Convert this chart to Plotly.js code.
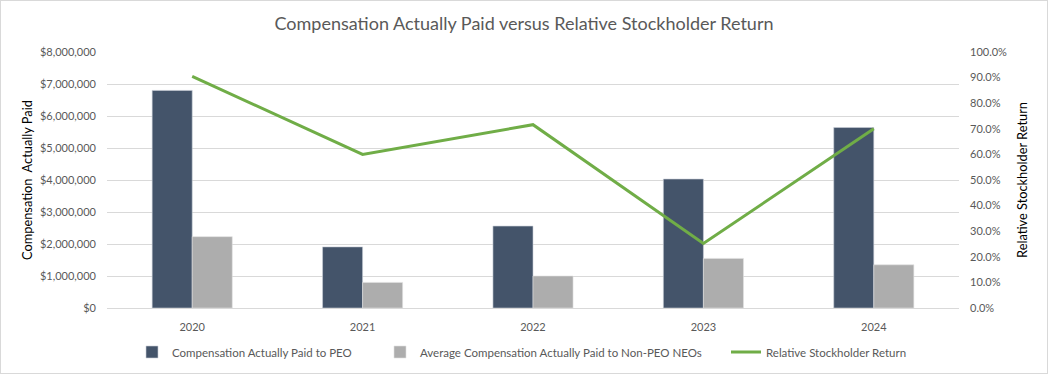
<!DOCTYPE html>
<html>
<head>
<meta charset="utf-8">
<script src="https://cdn.plot.ly/plotly-3.0.1.min.js"></script>
<style>
  html, body { margin: 0; padding: 0; background: #fff; }
  #chart { width: 1046px; height: 372px; border: 1px solid #D9D9D9; }
</style>
</head>
<body>
<div id="chart"></div>
<script>
const years = ["2020", "2021", "2022", "2023", "2024"];
const peoCAP = [6800000, 1910000, 2560000, 4030000, 5640000];
const neoCAP = [2230000, 800000, 1000000, 1550000, 1350000];
const relTSR = [0.905, 0.60, 0.716, 0.252, 0.70];

const FONT = "Lato, 'Open Sans', sans-serif";
const TXT = "#595959";

const traces = [
  {
    type: "bar", name: "Compensation Actually Paid to PEO",
    x: years, y: peoCAP, yaxis: "y",
    marker: { color: "#44546A", line: { color: "#C9CED6", width: 0.6 } },
    legend: "legend", hoverinfo: "skip"
  },
  {
    type: "bar", name: "Average Compensation Actually Paid to Non-PEO NEOs",
    x: years, y: neoCAP, yaxis: "y",
    marker: { color: "#ADADAD", line: { color: "#E0E0E0", width: 0.6 } },
    legend: "legend2", hoverinfo: "skip"
  },
  {
    type: "scatter", mode: "lines", name: "Relative Stockholder Return",
    x: years, y: relTSR, yaxis: "y2",
    line: { color: "#70AD47", width: 3 },
    legend: "legend3", hoverinfo: "skip"
  }
];

const legBase = {
  orientation: "h", xref: "container", yref: "container",
  yanchor: "middle", y: 1 - 351 / 372, xanchor: "left",
  font: { family: FONT, size: 11.5, color: TXT }, bgcolor: "rgba(0,0,0,0)"
};

const layout = {
  width: 1046, height: 372,
  margin: { l: 106, r: 88, t: 51, b: 65, autoexpand: false },
  paper_bgcolor: "#fff", plot_bgcolor: "#fff",
  font: { family: FONT, color: TXT, size: 11 },
  title: {
    text: "Compensation Actually Paid versus Relative Stockholder Return",
    font: { family: FONT, size: 18, color: TXT },
    x: 0.5, xanchor: "center", y: 0.94, yanchor: "middle"
  },
  barmode: "group", bargap: 0.53, bargroupgap: 0,
  xaxis: {
    type: "category", showgrid: false, zeroline: false,
    showline: false, ticks: "",
    tickfont: { family: FONT, size: 11, color: TXT },
    ticklabelstandoff: 11
  },
  yaxis: {
    range: [0, 8000000], dtick: 1000000, tickformat: "$,.0f",
    showgrid: true, gridcolor: "#D9D9D9", gridwidth: 1,
    zeroline: true, zerolinecolor: "#D9D9D9", zerolinewidth: 1,
    showline: false, ticks: "",
    tickfont: { family: FONT, size: 11, color: TXT },
    ticklabelstandoff: 10,
    title: { text: "Compensation  Actually Paid", font: { family: FONT, size: 12.8, color: "#000" }, standoff: 4 }
  },
  yaxis2: {
    overlaying: "y", side: "right",
    range: [0, 1], dtick: 0.1, tickformat: ".1%",
    showgrid: false, zeroline: false, showline: false, ticks: "",
    tickfont: { family: FONT, size: 11, color: TXT },
    ticklabelstandoff: 10,
    title: { text: "Relative Stockholder Return", font: { family: FONT, size: 12.8, color: "#000" }, standoff: 11 }
  },
  legend: Object.assign({}, legBase, { x: 131 / 1046 }),
  legend2: Object.assign({}, legBase, { x: 379 / 1046 }),
  legend3: Object.assign({}, legBase, { x: 725 / 1046 }),
  showlegend: true
};

Plotly.newPlot("chart", traces, layout, { displayModeBar: false, staticPlot: true });
</script>
</body>
</html>
